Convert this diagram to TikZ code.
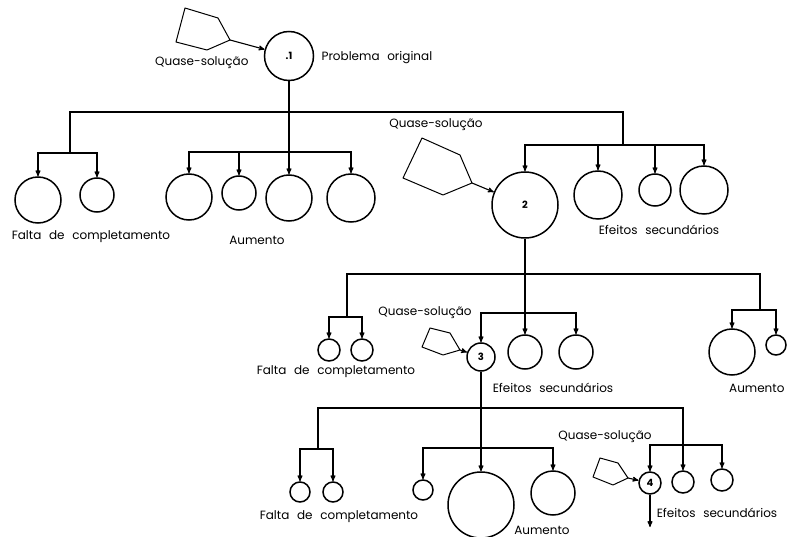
\documentclass[tikz,border=0pt]{standalone}
\usepackage{fontspec}
\setmainfont{Poppins}[WordSpace=2.4]
\usepackage{tikz}
\usetikzlibrary{arrows}
\tikzset{goal/.style={circle, draw, line width=1.5pt, inner sep=0pt, font=\bfseries\fontsize{10}{10}\selectfont}}
\tikzset{qsol/.style={line width=1pt, line join=round}}
\tikzset{lbl/.style={inner sep=0pt, font=\fontsize{12}{14}\selectfont}}

\begin{document}
\begin{tikzpicture}[x=1pt, y=-1pt, >=stealth', line width=1.1pt]
\useasboundingbox (0,0) rectangle (787,537);
\node[goal, minimum size=49pt] (p1) at (289,56) {.1};
\node[goal, minimum size=46pt] (c11) at (38,200) {};
\node[goal, minimum size=34pt] (c12) at (97,195) {};
\node[goal, minimum size=46pt] (a11) at (189,197) {};
\node[goal, minimum size=34pt] (a12) at (239,193) {};
\node[goal, minimum size=46pt] (a13) at (289,198) {};
\node[goal, minimum size=48pt] (a14) at (351,198) {};
\node[goal, minimum size=66pt] (p2) at (525,205) {2};
\node[goal, minimum size=48pt] (e21) at (598,195) {};
\node[goal, minimum size=32pt] (e22) at (655,190) {};
\node[goal, minimum size=48pt] (e23) at (704,190) {};
\node[goal, minimum size=22pt] (c21) at (329,350) {};
\node[goal, minimum size=22pt] (c22) at (362,350) {};
\node[goal, minimum size=28pt] (p3) at (481,357) {3};
\node[goal, minimum size=34pt] (e31) at (525,352) {};
\node[goal, minimum size=34pt] (e32) at (576,352) {};
\node[goal, minimum size=46pt] (u31) at (732,352) {};
\node[goal, minimum size=20pt] (u32) at (776,345) {};
\node[goal, minimum size=20pt] (c41) at (300,492) {};
\node[goal, minimum size=20pt] (c42) at (333,492) {};
\node[goal, minimum size=20pt] (u41) at (423,490) {};
\node[goal, minimum size=66pt] (u42) at (481,505) {};
\node[goal, minimum size=44pt] (u43) at (553,493) {};
\node[goal, minimum size=22pt] (p4) at (650,483) {4};
\node[goal, minimum size=22pt] (e41) at (683,482) {};
\node[goal, minimum size=22pt] (e42) at (722,480) {};

\node[lbl, anchor=west] (po) at (321,58) {Problema original};
\node[lbl, anchor=east] (q1) at (249,63) {Quase-solução};
\node[lbl] (f1l) at (91,237) {Falta de completamento};
\node[lbl] (a1l) at (257,240) {Aumento};
\node[lbl] (q2) at (436,125) {Quase-solução};
\node[lbl] (e2l) at (659,230) {Efeitos secundários};
\node[lbl] (f2l) at (336,372) {Falta de completamento};
\node[lbl] (q3) at (425,313) {Quase-solução};
\node[lbl] (e3l) at (553,388) {Efeitos secundários};
\node[lbl, anchor=east] (u3l) at (785,388) {Aumento};
\node[lbl] (f3l) at (339,517) {Falta de completamento};
\node[lbl] (u4l) at (542,530) {Aumento};
\node[lbl] (q4) at (605,437) {Quase-solução};
\node[lbl] (e4l) at (717,513) {Efeitos secundários};

\draw[qsol] (185,8) -- (218,18) -- (230,40) coordinate (t1) -- (207,50) -- (176,42) -- cycle;
\draw[qsol] (422,138) -- (460,155) -- (472,183) coordinate (t2) -- (443,195) -- (403,178) -- cycle;
\draw[qsol] (430,328) -- (450,333) -- (460,350) coordinate (t3) -- (443,355) -- (422,347) -- cycle;
\draw[qsol] (600,458) -- (618,463) -- (628,478) coordinate (t4) -- (613,485) -- (593,477) -- cycle;
\draw[->] (t1) -- (p1);
\draw[->] (t2) -- (p2);
\draw[->] (t3) -- (p3);
\draw[->] (t4) -- (p4);

\coordinate (b1) at (289,112);
\coordinate (f1) at (70,153);
\coordinate (m1) at (289,152);
\coordinate (e1) at (623,145);
\draw (b1) -| (f1);
\draw (b1) -| (e1);
\draw[->] (f1) -| (c11);
\draw[->] (f1) -| (c12);
\draw[->] (p1) -- (a13);
\draw[->] (m1) -| (a11);
\draw[->] (m1) -| (a12);
\draw[->] (m1) -| (a14);
\draw[->] (e1) -| (p2);
\draw[->] (e1) -| (e21);
\draw[->] (e1) -| (e22);
\draw[->] (e1) -| (e23);

\coordinate (b2) at (525,274);
\coordinate (f2) at (347,317);
\coordinate (m2) at (525,313);
\coordinate (u2) at (760,310);
\draw (b2) -| (f2);
\draw (b2) -| (u2);
\draw[->] (f2) -| (c21);
\draw[->] (f2) -| (c22);
\draw[->] (p2) -- (e31);
\draw[->] (m2) -| (p3);
\draw[->] (m2) -| (e32);
\draw[->] (u2) -| (u31);
\draw[->] (u2) -| (u32);

\coordinate (b3) at (481,408);
\coordinate (f3) at (318,449);
\coordinate (m3) at (481,448);
\coordinate (e3) at (683,445);
\coordinate (end4) at (650,527);
\draw (b3) -| (f3);
\draw[->] (b3) -| (e41);
\draw[->] (f3) -| (c41);
\draw[->] (f3) -| (c42);
\draw[->] (p3) -- (u42);
\draw[->] (m3) -| (u41);
\draw[->] (m3) -| (u43);
\draw[->] (e3) -| (p4);
\draw[->] (e3) -| (e42);
\draw[->] (p4) -- (end4);
\end{tikzpicture}
\end{document}
